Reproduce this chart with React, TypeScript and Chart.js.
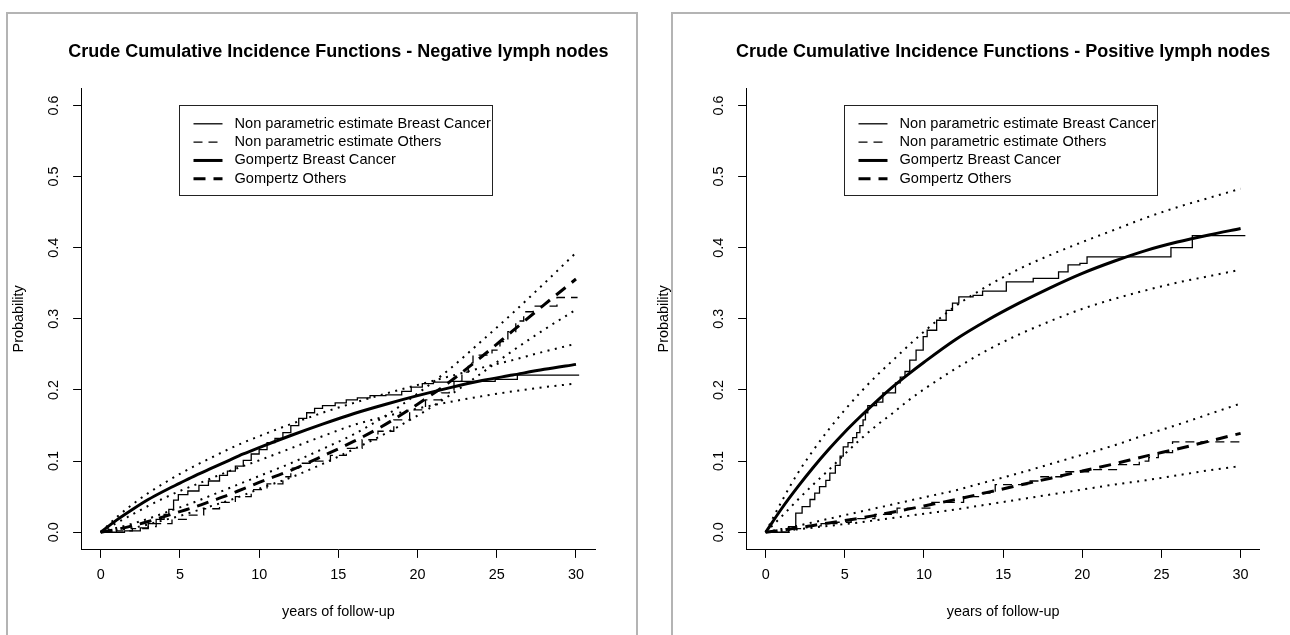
import React, { useEffect, useRef } from "react";
import { Chart, registerables } from "chart.js";

Chart.register(...registerables);

const FONT = "'Liberation Sans', Arial, Helvetica, sans-serif";

// ---------- axis ticks ----------
const xTicks = [0, 5, 10, 15, 20, 25, 30];
const xTickLabels = ["0", "5", "10", "15", "20", "25", "30"];
const yTicks = [0, 0.1, 0.2, 0.3, 0.4, 0.5, 0.6];
const yTickLabels = ["0.0", "0.1", "0.2", "0.3", "0.4", "0.5", "0.6"];

const titles = [
  "Crude Cumulative Incidence Functions - Negative lymph nodes",
  "Crude Cumulative Incidence Functions - Positive lymph nodes",
];
const legendLabels = [
  "Non parametric estimate Breast Cancer",
  "Non parametric estimate Others",
  "Gompertz Breast Cancer",
  "Gompertz Others",
];

// ---------- fitted (Gompertz) curves: years of follow-up ----------
const fitTimes = [0, 1, 2, 3, 4, 5, 6, 7, 8, 9, 10, 12, 14, 16, 18, 20, 22, 24, 26, 28, 30];

// Negative lymph nodes
const negGompBC = [0, 0.017, 0.032, 0.046, 0.058, 0.069, 0.08, 0.09, 0.1, 0.11, 0.119, 0.136, 0.152, 0.167, 0.18, 0.192, 0.203, 0.213, 0.221, 0.229, 0.236];
const negGompBCUpper = [0, 0.021, 0.039, 0.055, 0.069, 0.082, 0.094, 0.105, 0.116, 0.126, 0.135, 0.152, 0.168, 0.182, 0.195, 0.207, 0.219, 0.231, 0.242, 0.254, 0.265];
const negGompBCLower = [0, 0.013, 0.025, 0.037, 0.048, 0.058, 0.067, 0.076, 0.085, 0.093, 0.101, 0.118, 0.135, 0.151, 0.163, 0.174, 0.183, 0.191, 0.198, 0.204, 0.209];
const negGompOth = [0, 0.004, 0.009, 0.015, 0.022, 0.029, 0.036, 0.044, 0.052, 0.061, 0.07, 0.087, 0.107, 0.128, 0.152, 0.18, 0.211, 0.246, 0.283, 0.32, 0.356];
const negGompOthUpper = [0, 0.006, 0.012, 0.019, 0.027, 0.035, 0.043, 0.052, 0.061, 0.07, 0.079, 0.097, 0.117, 0.138, 0.164, 0.195, 0.229, 0.268, 0.308, 0.35, 0.393];
const negGompOthLower = [0, 0.003, 0.006, 0.011, 0.017, 0.023, 0.03, 0.037, 0.044, 0.052, 0.061, 0.077, 0.096, 0.117, 0.139, 0.164, 0.192, 0.223, 0.255, 0.285, 0.313];

const negNpBCTimes = [0, 1.5, 2.5, 3.0, 3.5, 4.0, 4.3, 4.6, 4.9, 5.5, 6.2, 6.8, 7.5, 8.0, 8.5, 9.0, 9.5, 10.0, 10.5, 11.0, 11.5, 12.0, 12.5, 13.0, 13.5, 14.0, 14.8, 15.5, 16.2, 17.0, 18.0, 19.0, 19.6, 20.3, 21.0, 22.0, 24.9, 26.3, 30.2];
const negNpBCProbs = [0, 0.002, 0.006, 0.012, 0.018, 0.025, 0.032, 0.045, 0.053, 0.058, 0.066, 0.072, 0.08, 0.086, 0.093, 0.101, 0.11, 0.116, 0.126, 0.132, 0.14, 0.15, 0.16, 0.168, 0.174, 0.178, 0.182, 0.186, 0.189, 0.192, 0.193, 0.198, 0.204, 0.209, 0.211, 0.212, 0.215, 0.221, 0.221];
const negNpOthTimes = [0, 1.0, 2.0, 3.0, 3.5, 4.5, 5.5, 6.5, 7.5, 8.5, 9.5, 10.5, 11.5, 12.0, 12.5, 13.5, 14.5, 15.5, 16.5, 17.5, 18.5, 19.5, 20.5, 21.5, 22.0, 22.3, 22.8, 23.2, 23.5, 24.7, 25.2, 25.7, 26.2, 26.7, 27.3, 28.8, 30.1];
const negNpOthProbs = [0, 0.002, 0.005, 0.008, 0.012, 0.018, 0.024, 0.033, 0.042, 0.05, 0.06, 0.068, 0.078, 0.09, 0.097, 0.1, 0.108, 0.118, 0.13, 0.142, 0.158, 0.172, 0.186, 0.196, 0.2, 0.212, 0.225, 0.238, 0.249, 0.256, 0.268, 0.282, 0.297, 0.31, 0.318, 0.33, 0.33];

// Positive lymph nodes
const posGompBC = [0, 0.033, 0.063, 0.091, 0.117, 0.141, 0.163, 0.184, 0.204, 0.222, 0.239, 0.271, 0.298, 0.322, 0.344, 0.364, 0.381, 0.396, 0.408, 0.418, 0.427];
const posGompBCUpper = [0, 0.043, 0.082, 0.115, 0.145, 0.172, 0.197, 0.22, 0.241, 0.262, 0.282, 0.318, 0.346, 0.37, 0.39, 0.408, 0.425, 0.442, 0.457, 0.47, 0.483];
const posGompBCLower = [0, 0.022, 0.045, 0.067, 0.088, 0.11, 0.131, 0.15, 0.167, 0.185, 0.201, 0.23, 0.256, 0.278, 0.297, 0.314, 0.328, 0.34, 0.351, 0.36, 0.369];
const posGompOth = [0, 0.003, 0.006, 0.0095, 0.013, 0.0165, 0.02, 0.024, 0.028, 0.0325, 0.037, 0.046, 0.056, 0.066, 0.076, 0.086, 0.096, 0.107, 0.117, 0.128, 0.139];
const posGompOthUpper = [0, 0.0045, 0.009, 0.014, 0.019, 0.024, 0.029, 0.034, 0.039, 0.044, 0.049, 0.059, 0.071, 0.083, 0.096, 0.109, 0.122, 0.137, 0.151, 0.166, 0.181];
const posGompOthLower = [0, 0.002, 0.004, 0.0065, 0.009, 0.0115, 0.014, 0.017, 0.02, 0.023, 0.026, 0.032, 0.039, 0.046, 0.053, 0.06, 0.067, 0.073, 0.08, 0.087, 0.093];

const posNpBCTimes = [0, 1.45, 1.9, 2.3, 2.8, 3.1, 3.4, 3.8, 4.05, 4.4, 4.7, 4.9, 5.2, 5.5, 5.75, 5.95, 6.15, 6.3, 6.45, 7.0, 7.4, 8.2, 8.5, 8.8, 9.1, 9.5, 9.95, 10.2, 10.8, 11.4, 11.8, 12.2, 13.1, 13.7, 15.2, 16.9, 18.5, 19.1, 19.85, 20.3, 25.6, 26.95, 30.3];
const posNpBCProbs = [0, 0.008, 0.027, 0.036, 0.046, 0.055, 0.064, 0.073, 0.083, 0.094, 0.107, 0.12, 0.126, 0.133, 0.14, 0.15, 0.158, 0.168, 0.178, 0.183, 0.196, 0.21, 0.218, 0.226, 0.242, 0.256, 0.275, 0.284, 0.298, 0.312, 0.322, 0.331, 0.333, 0.339, 0.352, 0.357, 0.366, 0.376, 0.378, 0.387, 0.4, 0.417, 0.417];
const posNpOthTimes = [0, 1.8, 2.6, 3.5, 4.5, 5.4, 6.9, 8.3, 10.5, 12.5, 13.5, 14.5, 16.5, 17.3, 18.7, 20.5, 22.3, 23.6, 24.2, 24.8, 25.7, 30.2];
const posNpOthProbs = [0, 0.005, 0.009, 0.012, 0.014, 0.019, 0.025, 0.034, 0.042, 0.05, 0.055, 0.067, 0.072, 0.078, 0.085, 0.088, 0.095, 0.1, 0.105, 0.112, 0.127, 0.127];

// ---------- styles ----------
const STYLE = {
  npBC: { borderWidth: 1.3, borderDash: [] as number[] },
  npOth: { borderWidth: 1.3, borderDash: [9, 6] },
  gBC: { borderWidth: 3, borderDash: [] as number[] },
  gOth: { borderWidth: 3, borderDash: [12, 8] },
  ci: { borderWidth: 2, borderDash: [2, 5.5] },
};
const legendStyles = [STYLE.npBC, STYLE.npOth, STYLE.gBC, STYLE.gOth];

const pts = (ts: number[], ps: number[]) => ts.map((t, i) => ({ x: t, y: ps[i] }));

function smooth(label: string, ps: number[], st: any) {
  return {
    label,
    data: pts(fitTimes, ps),
    showLine: true,
    borderColor: "#000",
    backgroundColor: "#000",
    pointRadius: 0,
    cubicInterpolationMode: "monotone",
    borderCapStyle: "butt",
    ...st,
  };
}
function step(label: string, ts: number[], ps: number[], st: any) {
  return {
    label,
    data: pts(ts, ps),
    showLine: true,
    borderColor: "#000",
    backgroundColor: "#000",
    pointRadius: 0,
    stepped: "before",
    borderCapStyle: "butt",
    ...st,
  };
}

const panels = [
  {
    title: titles[0],
    left: 0,
    yAxisWidth: 81.7,
    padRight: 50,
    datasets: [
      smooth("BC upper", negGompBCUpper, STYLE.ci),
      smooth("BC lower", negGompBCLower, STYLE.ci),
      smooth("Others upper", negGompOthUpper, STYLE.ci),
      smooth("Others lower", negGompOthLower, STYLE.ci),
      step(legendLabels[0], negNpBCTimes, negNpBCProbs, STYLE.npBC),
      step(legendLabels[1], negNpOthTimes, negNpOthProbs, STYLE.npOth),
      smooth(legendLabels[2], negGompBC, STYLE.gBC),
      smooth(legendLabels[3], negGompOth, STYLE.gOth),
    ],
  },
  {
    title: titles[1],
    left: 645,
    yAxisWidth: 101.7,
    padRight: 30.4,
    datasets: [
      smooth("BC upper", posGompBCUpper, STYLE.ci),
      smooth("BC lower", posGompBCLower, STYLE.ci),
      smooth("Others upper", posGompOthUpper, STYLE.ci),
      smooth("Others lower", posGompOthLower, STYLE.ci),
      step(legendLabels[0], posNpBCTimes, posNpBCProbs, STYLE.npBC),
      step(legendLabels[1], posNpOthTimes, posNpOthProbs, STYLE.npOth),
      smooth(legendLabels[2], posGompBC, STYLE.gBC),
      smooth(legendLabels[3], posGompOth, STYLE.gOth),
    ],
  },
];

// R-style main title, centred on the plot region and free to overhang it
const rTitle = {
  id: "rTitle",
  afterDraw(chart: any) {
    const { ctx, chartArea } = chart;
    const text = chart.options.plugins.rTitle.text;
    ctx.save();
    ctx.fillStyle = "#000";
    ctx.font = `bold 18px ${FONT}`;
    ctx.textAlign = "center";
    ctx.textBaseline = "middle";
    ctx.fillText(text, (chartArea.left + chartArea.right) / 2, chartArea.top - 36.7);
    ctx.restore();
  },
};

const rLegend = {
  id: "rLegend",
  afterDatasetsDraw(chart: any) {
    const { ctx, chartArea } = chart;
    const bx = Math.round(chartArea.left + 97.5) + 0.5;
    const by = Math.round(chartArea.top + 16.6) + 0.5;
    const bw = 313;
    const bh = 90;
    ctx.save();
    ctx.fillStyle = "#fff";
    ctx.fillRect(bx, by, bw, bh);
    ctx.setLineDash([]);
    ctx.lineWidth = 1;
    ctx.strokeStyle = "#222";
    ctx.strokeRect(bx, by, bw, bh);
    legendLabels.forEach((label, i) => {
      const y = by + 18.3 + i * 18.33;
      const st = legendStyles[i];
      ctx.beginPath();
      ctx.strokeStyle = "#000";
      ctx.lineWidth = st.borderWidth;
      ctx.lineCap = "butt";
      ctx.setLineDash(st.borderDash);
      ctx.moveTo(bx + 14, y);
      ctx.lineTo(bx + 43, y);
      ctx.stroke();
      ctx.setLineDash([]);
      ctx.fillStyle = "#000";
      ctx.font = `14.6px ${FONT}`;
      ctx.textBaseline = "middle";
      ctx.textAlign = "left";
      ctx.fillText(label, bx + 55, y);
    });
    ctx.restore();
  },
};

function Panel({ cfg }: { cfg: any }) {
  const ref = useRef<HTMLCanvasElement>(null);
  useEffect(() => {
    const axisFont = { family: FONT, size: 14.4 };
    const chart = new Chart(ref.current as HTMLCanvasElement, {
      type: "scatter",
      data: { datasets: cfg.datasets },
      options: {
        animation: false,
        responsive: false,
        maintainAspectRatio: false,
        devicePixelRatio: 1,
        layout: { padding: { left: 0, top: 88.4, right: cfg.padRight, bottom: 0 } },
        plugins: {
          legend: { display: false },
          tooltip: { enabled: false },
          title: { display: false },
          rTitle: { text: cfg.title },
        },
        scales: {
          x: {
            type: "linear",
            position: "bottom",
            min: -1.2,
            max: 31.2,
            afterBuildTicks: (s: any) => {
              s.ticks = xTicks.map((v) => ({ value: v }));
            },
            afterFit: (s: any) => {
              s.height = 85.7;
            },
            ticks: {
              autoSkip: false,
              minRotation: 0,
              maxRotation: 0,
              padding: 8.5,
              color: "#000",
              font: axisFont,
              callback: (_v: any, i: number) => xTickLabels[i],
            },
            grid: { drawOnChartArea: false, drawTicks: true, tickLength: 8.6, color: "#000", lineWidth: 1 },
            border: { display: true, color: "#000", width: 1 },
            title: {
              display: true,
              text: "years of follow-up",
              color: "#000",
              font: axisFont,
              padding: { top: 0, bottom: 14.4 },
            },
          },
          y: {
            type: "linear",
            min: -0.024,
            max: 0.624,
            afterBuildTicks: (s: any) => {
              s.ticks = yTicks.map((v) => ({ value: v }));
            },
            afterFit: (s: any) => {
              s.width = cfg.yAxisWidth;
            },
            ticks: {
              autoSkip: false,
              minRotation: 90,
              maxRotation: 90,
              crossAlign: "center",
              padding: 9.4,
              color: "#000",
              font: axisFont,
              callback: (_v: any, i: number) => yTickLabels[i],
            },
            grid: { drawOnChartArea: false, drawTicks: true, tickLength: 8.6, color: "#000", lineWidth: 1 },
            border: { display: true, color: "#000", width: 1 },
            title: {
              display: true,
              text: "Probability",
              color: "#000",
              font: axisFont,
              padding: { top: 10.8, bottom: 0 },
            },
          },
        },
      } as any,
      plugins: [rLegend, rTitle],
    });
    return () => chart.destroy();
  }, []);
  return (
    <canvas
      ref={ref}
      width={645}
      height={635}
      style={{ position: "absolute", left: cfg.left, top: 0, width: 645, height: 635 }}
    />
  );
}

export default function App() {
  return (
    <div
      style={{
        position: "absolute",
        left: 0,
        top: 0,
        width: 1290,
        height: 635,
        overflow: "hidden",
        background: "#fff",
      }}
    >
      <div
        style={{
          position: "absolute",
          left: 6,
          top: 12,
          width: 632,
          height: 700,
          boxSizing: "border-box",
          border: "2px solid #b4b4b4",
        }}
      />
      <div
        style={{
          position: "absolute",
          left: 671,
          top: 12,
          width: 700,
          height: 700,
          boxSizing: "border-box",
          border: "2px solid #b4b4b4",
        }}
      />
      {panels.map((p, i) => (
        <Panel key={i} cfg={p} />
      ))}
    </div>
  );
}
